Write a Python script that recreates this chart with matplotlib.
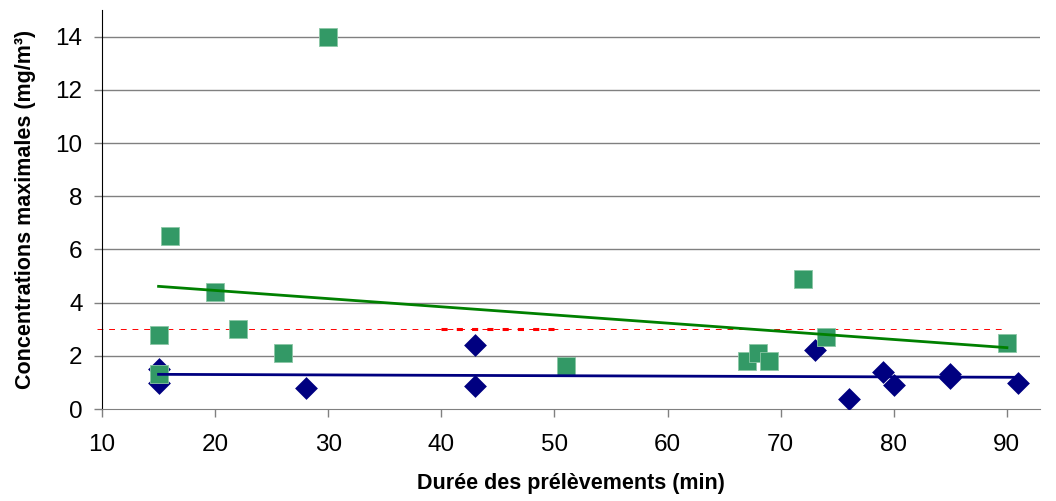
import matplotlib
matplotlib.use("Agg")
import matplotlib.pyplot as plt
import numpy as np

plt.rcParams['font.family'] = ['Liberation Sans', 'DejaVu Sans']

green_x = [15, 15, 16, 20, 22, 26, 30, 51, 67, 68, 69, 72, 74, 90]
green_y = [2.8, 1.3, 6.5, 4.4, 3.0, 2.1, 14.0, 1.6, 1.8, 2.1, 1.8, 4.9, 2.7, 2.5]
blue_x = [15, 15, 28, 43, 43, 73, 76, 79, 80, 85, 85, 91]
blue_y = [1.52, 0.99, 0.78, 2.4, 0.85, 2.2, 0.38, 1.4, 0.9, 1.3, 1.15, 0.99]
limit_value = 3
limit_range = [9.6, 90]
limit_highlight = [40, 50]
x_ticks = [10, 20, 30, 40, 50, 60, 70, 80, 90]
y_ticks = [0, 2, 4, 6, 8, 10, 12, 14]

fig = plt.figure(figsize=(10.56, 5.01), dpi=100)
ax = fig.add_axes([0.0966, 0.1836, 0.888, 0.7964])

for y in y_ticks[1:]:
    ax.axhline(y, color='#808080', lw=1.0, zorder=0)

ax.plot(limit_range, [limit_value]*2, color='#ff0000', lw=0.7, dashes=(6, 6), zorder=1, clip_on=False)
ax.plot(limit_highlight, [limit_value]*2, color='#ff0000', lw=2.2, dashes=(2, 3), zorder=1)

ax.scatter(blue_x, blue_y, marker='D', s=135, color='#000080', zorder=3, linewidths=0)
ax.scatter(green_x, green_y, marker='s', s=150, color='#339966', zorder=4,
           edgecolors='#8cc7a6', linewidths=0.6)

gc = np.polyfit(green_x, green_y, 1)
gx = np.array([min(green_x), max(green_x)])
ax.plot(gx, np.polyval(gc, gx), color='#008000', lw=2, zorder=5)
bc = np.polyfit(blue_x, blue_y, 1)
bx = np.array([min(blue_x), max(blue_x)])
ax.plot(bx, np.polyval(bc, bx), color='#000080', lw=2, zorder=5)

ax.set_xlim(10, 92.9)
ax.set_ylim(0, 15)
ax.set_xticks(x_ticks)
ax.set_yticks(y_ticks)
ax.tick_params(axis='both', direction='out', length=6, labelsize=17.5, color='#808080', width=1)
ax.tick_params(axis='x', pad=12)
ax.tick_params(axis='y', pad=8)
for s in ['top', 'right']:
    ax.spines[s].set_visible(False)
ax.spines['left'].set_color('black')
ax.spines['bottom'].set_color('#808080')
ax.set_xlabel('Durée des prélèvements (min)', fontsize=15.5, fontweight='bold', labelpad=12)
ax.set_ylabel('Concentrations maximales (mg/m³)', fontsize=15.5, fontweight='bold', labelpad=14)

fig.savefig('out.png', dpi=100)
